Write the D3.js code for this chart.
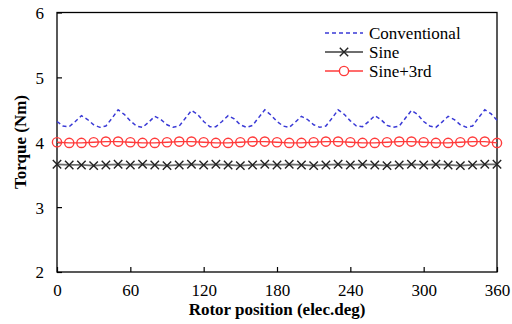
<!DOCTYPE html>
<html>
<head>
<meta charset="utf-8">
<script src="https://cdn.jsdelivr.net/npm/d3@7"></script>
<style>
  html, body { margin: 0; padding: 0; background: #fff; }
  svg { display: block; }
</style>
</head>
<body>
<svg id="chart" width="512" height="324"></svg>
<script>
// ---- data ----
const xTicks = [0, 60, 120, 180, 240, 300, 360];
const yTicks = [2, 3, 4, 5, 6];

// Conventional: every 5 elec.deg, 0..360
const convAngles = d3.range(0, 361, 5);
const convTorque = [
  4.32, 4.25, 4.24, 4.32, 4.41, 4.35, 4.27, 4.23, 4.25, 4.37, 4.50, 4.43,
  4.33, 4.25, 4.23, 4.31, 4.40, 4.35, 4.27, 4.23, 4.25, 4.37, 4.49, 4.43,
  4.32, 4.24, 4.24, 4.32, 4.41, 4.36, 4.27, 4.23, 4.26, 4.38, 4.50, 4.42,
  4.32, 4.25, 4.23, 4.31, 4.40, 4.35, 4.27, 4.23, 4.25, 4.37, 4.50, 4.43,
  4.33, 4.25, 4.24, 4.32, 4.41, 4.35, 4.26, 4.23, 4.25, 4.37, 4.49, 4.43,
  4.32, 4.25, 4.23, 4.31, 4.40, 4.35, 4.27, 4.23, 4.25, 4.38, 4.50, 4.44,
  4.34
];

// Sine and Sine+3rd: every 10 elec.deg
const markAngles = d3.range(0, 361, 10);
const sineTorque = [
  3.66, 3.65, 3.65, 3.64, 3.65, 3.66, 3.65, 3.66, 3.65, 3.64, 3.65, 3.66, 3.65,
  3.66, 3.65, 3.64, 3.65, 3.66, 3.65, 3.66, 3.65, 3.64, 3.65, 3.66, 3.65, 3.66,
  3.65, 3.64, 3.65, 3.66, 3.65, 3.66, 3.65, 3.64, 3.65, 3.66, 3.66
];
const sine3Torque = [
  4.00, 3.99, 3.99, 4.00, 4.01, 4.01, 4.00, 3.99, 3.99, 4.00, 4.01, 4.01, 4.00,
  3.99, 3.99, 4.00, 4.01, 4.01, 4.00, 3.99, 3.99, 4.00, 4.01, 4.01, 4.00, 3.99,
  3.99, 4.00, 4.01, 4.01, 4.00, 3.99, 3.99, 4.00, 4.01, 4.01, 3.99
];

const seriesNames = ["Conventional", "Sine", "Sine+3rd"];

// ---- layout ----
const svg = d3.select("#chart");
const plotL = 57, plotR = 497, plotT = 12.5, plotB = 272;
const x = d3.scaleLinear().domain([0, 360]).range([plotL, plotR]);
const y = d3.scaleLinear().domain([2, 6]).range([plotB, plotT]);
const FONT = '"Liberation Serif"';

// frame
svg.append("rect")
  .attr("x", plotL).attr("y", plotT)
  .attr("width", plotR - plotL).attr("height", plotB - plotT)
  .attr("fill", "none").attr("stroke", "#000").attr("stroke-width", 1.3);

// x axis (ticks inward)
const xAxis = d3.axisBottom(x).tickValues(xTicks).tickSize(-5).tickPadding(0).tickFormat(d3.format("d"));
const gx = svg.append("g").attr("transform", `translate(0,${plotB})`).call(xAxis);
gx.attr("font-family", null).attr("font-size", null);
gx.select(".domain").remove();
gx.selectAll(".tick line").attr("stroke", "#000").attr("stroke-width", 1.2);
gx.selectAll(".tick text").attr("y", 24).attr("dy", 0).attr("fill", "#000")
  .style("font-family", FONT).style("font-size", "17px");

// y axis (ticks inward)
const yAxis = d3.axisLeft(y).tickValues(yTicks).tickSize(-5).tickFormat(d3.format("d"));
const gy = svg.append("g").attr("transform", `translate(${plotL},0)`).call(yAxis);
gy.attr("font-family", null).attr("font-size", null);
gy.select(".domain").remove();
gy.selectAll(".tick line").attr("stroke", "#000").attr("stroke-width", 1.2);
gy.selectAll(".tick text").attr("x", -13).attr("dy", "0.35em").attr("fill", "#000")
  .style("font-family", FONT).style("font-size", "17px");

// axis titles
svg.append("text")
  .attr("x", 277).attr("y", 315)
  .attr("text-anchor", "middle")
  .style("font-family", FONT).style("font-size", "17px").style("font-weight", "bold")
  .text("Rotor position (elec.deg)");
svg.append("text")
  .attr("transform", "translate(26,142) rotate(-90)")
  .attr("text-anchor", "middle")
  .style("font-family", FONT).style("font-size", "17px").style("font-weight", "bold")
  .text("Torque (Nm)");

// ---- series ----
const line = d3.line().x(d => x(d[0])).y(d => y(d[1]));
const convData = convAngles.map((a, i) => [a, convTorque[i]]);
const sineData = markAngles.map((a, i) => [a, sineTorque[i]]);
const sine3Data = markAngles.map((a, i) => [a, sine3Torque[i]]);

const blue = "#3a3ad6", red = "#ff3b3b", gray = "#6e6e6e";

svg.append("path").datum(convData)
  .attr("d", line).attr("fill", "none")
  .attr("stroke", blue).attr("stroke-width", 1.5).attr("stroke-dasharray", "4,3");

// sine
svg.append("path").datum(sineData)
  .attr("d", line).attr("fill", "none")
  .attr("stroke", gray).attr("stroke-width", 1.8);
const xm = 4.2;
svg.append("g").selectAll("path").data(sineData).join("path")
  .attr("d", d => {
    const cx = x(d[0]), cy = y(d[1]);
    return `M${cx - xm},${cy - xm}L${cx + xm},${cy + xm}M${cx - xm},${cy + xm}L${cx + xm},${cy - xm}`;
  })
  .attr("stroke", "#222").attr("stroke-width", 1.4).attr("fill", "none");

// sine+3rd
svg.append("path").datum(sine3Data)
  .attr("d", line).attr("fill", "none")
  .attr("stroke", red).attr("stroke-width", 1.3);
svg.append("g").selectAll("circle").data(sine3Data).join("circle")
  .attr("cx", d => x(d[0])).attr("cy", d => y(d[1])).attr("r", 4.6)
  .attr("fill", "none").attr("stroke", red).attr("stroke-width", 1.4);

// ---- legend ----
const lg = svg.append("g");
const lx0 = 325, lx1 = 363, ltx = 369;
const rows = [33, 52, 71];
lg.append("line").attr("x1", lx0).attr("x2", lx1).attr("y1", rows[0]).attr("y2", rows[0])
  .attr("stroke", blue).attr("stroke-width", 1.5).attr("stroke-dasharray", "4,3");
lg.append("line").attr("x1", lx0).attr("x2", lx1).attr("y1", rows[1]).attr("y2", rows[1])
  .attr("stroke", gray).attr("stroke-width", 1.8);
{
  const cx = (lx0 + lx1) / 2, cy = rows[1];
  lg.append("path").attr("d", `M${cx - xm},${cy - xm}L${cx + xm},${cy + xm}M${cx - xm},${cy + xm}L${cx + xm},${cy - xm}`)
    .attr("stroke", "#222").attr("stroke-width", 1.4);
}
lg.append("line").attr("x1", lx0).attr("x2", lx1).attr("y1", rows[2]).attr("y2", rows[2])
  .attr("stroke", red).attr("stroke-width", 1.3);
lg.append("circle").attr("cx", (lx0 + lx1) / 2).attr("cy", rows[2]).attr("r", 4.6)
  .attr("fill", "#fff").attr("stroke", red).attr("stroke-width", 1.4);

seriesNames.forEach((n, i) => {
  lg.append("text").attr("x", ltx).attr("y", rows[i]).attr("dy", "0.35em")
    .style("font-family", FONT).style("font-size", "17px").text(n);
});
</script>
</body>
</html>
